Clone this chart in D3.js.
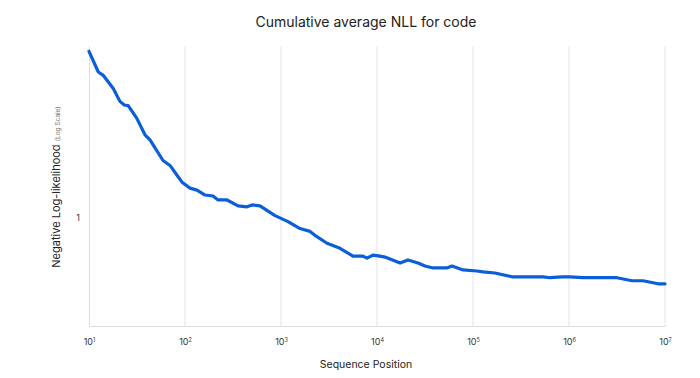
<!DOCTYPE html>
<html>
<head>
<meta charset="utf-8">
<script src="https://cdn.jsdelivr.net/npm/d3@7"></script>
<style>
  body { margin: 0; background: #fff; }
  text { font-family: Inter, "Noto Sans", sans-serif; fill: #222; }
</style>
</head>
<body>
<script>
// sequence positions and cumulative average NLL
var positions = [10, 12.5, 14.1, 17.9, 21, 23.3, 25.6, 31.4, 38.3, 43.2, 59, 69.8, 82.6, 93.1, 112.8, 133.4, 161.5, 195.8,
  220.9, 274, 357, 442, 499, 604, 866, 1183, 1578, 2005, 2259, 3013, 4120, 5623, 7145, 7870, 9080,
  10740, 12110, 17380, 21040, 26740, 31620, 38300, 53580, 60400, 78700, 110200, 127000, 169400,
  254700, 392600, 535800, 633800, 845300, 1023000, 1400000, 1738000, 3162000, 4530000, 5905000,
  8453000, 10000000];
var nll = [2.90, 2.54, 2.485, 2.285, 2.105, 2.057, 2.049, 1.891, 1.70, 1.646, 1.442, 1.397, 1.312, 1.255, 1.208, 1.193, 1.156, 1.149,
  1.12, 1.12, 1.079, 1.072, 1.085, 1.079, 1.013, 0.975, 0.933, 0.916, 0.893, 0.849, 0.822, 0.782, 0.782, 0.772, 0.787,
  0.782, 0.777, 0.748, 0.763, 0.748, 0.734, 0.725, 0.725, 0.734, 0.716, 0.711, 0.707, 0.702,
  0.685, 0.685, 0.685, 0.681, 0.685, 0.685, 0.681, 0.681, 0.681, 0.668, 0.668,
  0.655, 0.655];
var xTicks = [1e1, 1e2, 1e3, 1e4, 1e5, 1e6, 1e7];
var yTicks = [1];

var width = 700, height = 378;
var margin = {left: 89, right: 35, top: 46, bottom: 52};

var svg = d3.select("body").append("svg")
    .attr("width", width)
    .attr("height", height);

var x = d3.scaleLog().domain([1e1, 1e7]).range([margin.left, width - margin.right]);
var y = d3.scaleLog().domain([0.5, 3]).range([height - margin.bottom, margin.top]);

// vertical grid
svg.append("g")
  .selectAll("line")
  .data(xTicks.slice(1))
  .enter().append("line")
    .attr("x1", function(d) { return x(d); })
    .attr("x2", function(d) { return x(d); })
    .attr("y1", margin.top)
    .attr("y2", height - margin.bottom)
    .attr("stroke", "#e4e4e4")
    .attr("stroke-width", 1);

// axes
var xAxis = svg.append("g")
    .attr("transform", "translate(0," + (height - margin.bottom) + ")")
    .call(d3.axisBottom(x).tickValues(xTicks).tickSize(0).tickFormat(""));
xAxis.select(".domain").attr("stroke", "#dcdcdc");

xAxis.selectAll(".tick").append("text")
    .attr("y", 19)
    .attr("text-anchor", "middle")
    .style("font-size", "9px")
    .style("fill", "#333")
    .each(function(d) {
      var t = d3.select(this);
      t.append("tspan").text("10");
      t.append("tspan").attr("dy", -3).style("font-size", "5.5px").text(Math.round(Math.log10(d)));
    });

var yAxis = svg.append("g")
    .attr("transform", "translate(" + margin.left + ",0)")
    .call(d3.axisLeft(y).tickValues(yTicks).tickSize(0).tickPadding(9).tickFormat(d3.format("d")));
yAxis.select(".domain").attr("stroke", "#dcdcdc");
yAxis.selectAll(".tick text").style("font-size", "9px").style("fill", "#333");

// line
var line = d3.line()
    .x(function(d, i) { return x(positions[i]); })
    .y(function(d) { return y(d); })
    .curve(d3.curveLinear);

svg.append("path")
    .datum(nll)
    .attr("fill", "none")
    .attr("stroke", "#0a5ed7")
    .attr("stroke-width", 3.2)
    .attr("stroke-linejoin", "round")
    .attr("stroke-linecap", "round")
    .attr("d", line);

// titles
svg.append("text")
    .attr("x", 366)
    .attr("y", 27)
    .attr("text-anchor", "middle")
    .style("font-size", "14px")
    .text("Cumulative average NLL for code");

svg.append("text")
    .attr("x", 366)
    .attr("y", 368)
    .attr("text-anchor", "middle")
    .style("font-size", "10.5px")
    .text("Sequence Position");

var yl = svg.append("text")
    .attr("transform", "translate(60,187) rotate(-90)")
    .attr("text-anchor", "middle")
    .style("font-size", "11px");
yl.append("tspan").text("Negative Log-likelihood ");
yl.append("tspan").style("font-size", "6.5px").style("fill", "#777").text("(Log Scale)");
</script>
</body>
</html>
